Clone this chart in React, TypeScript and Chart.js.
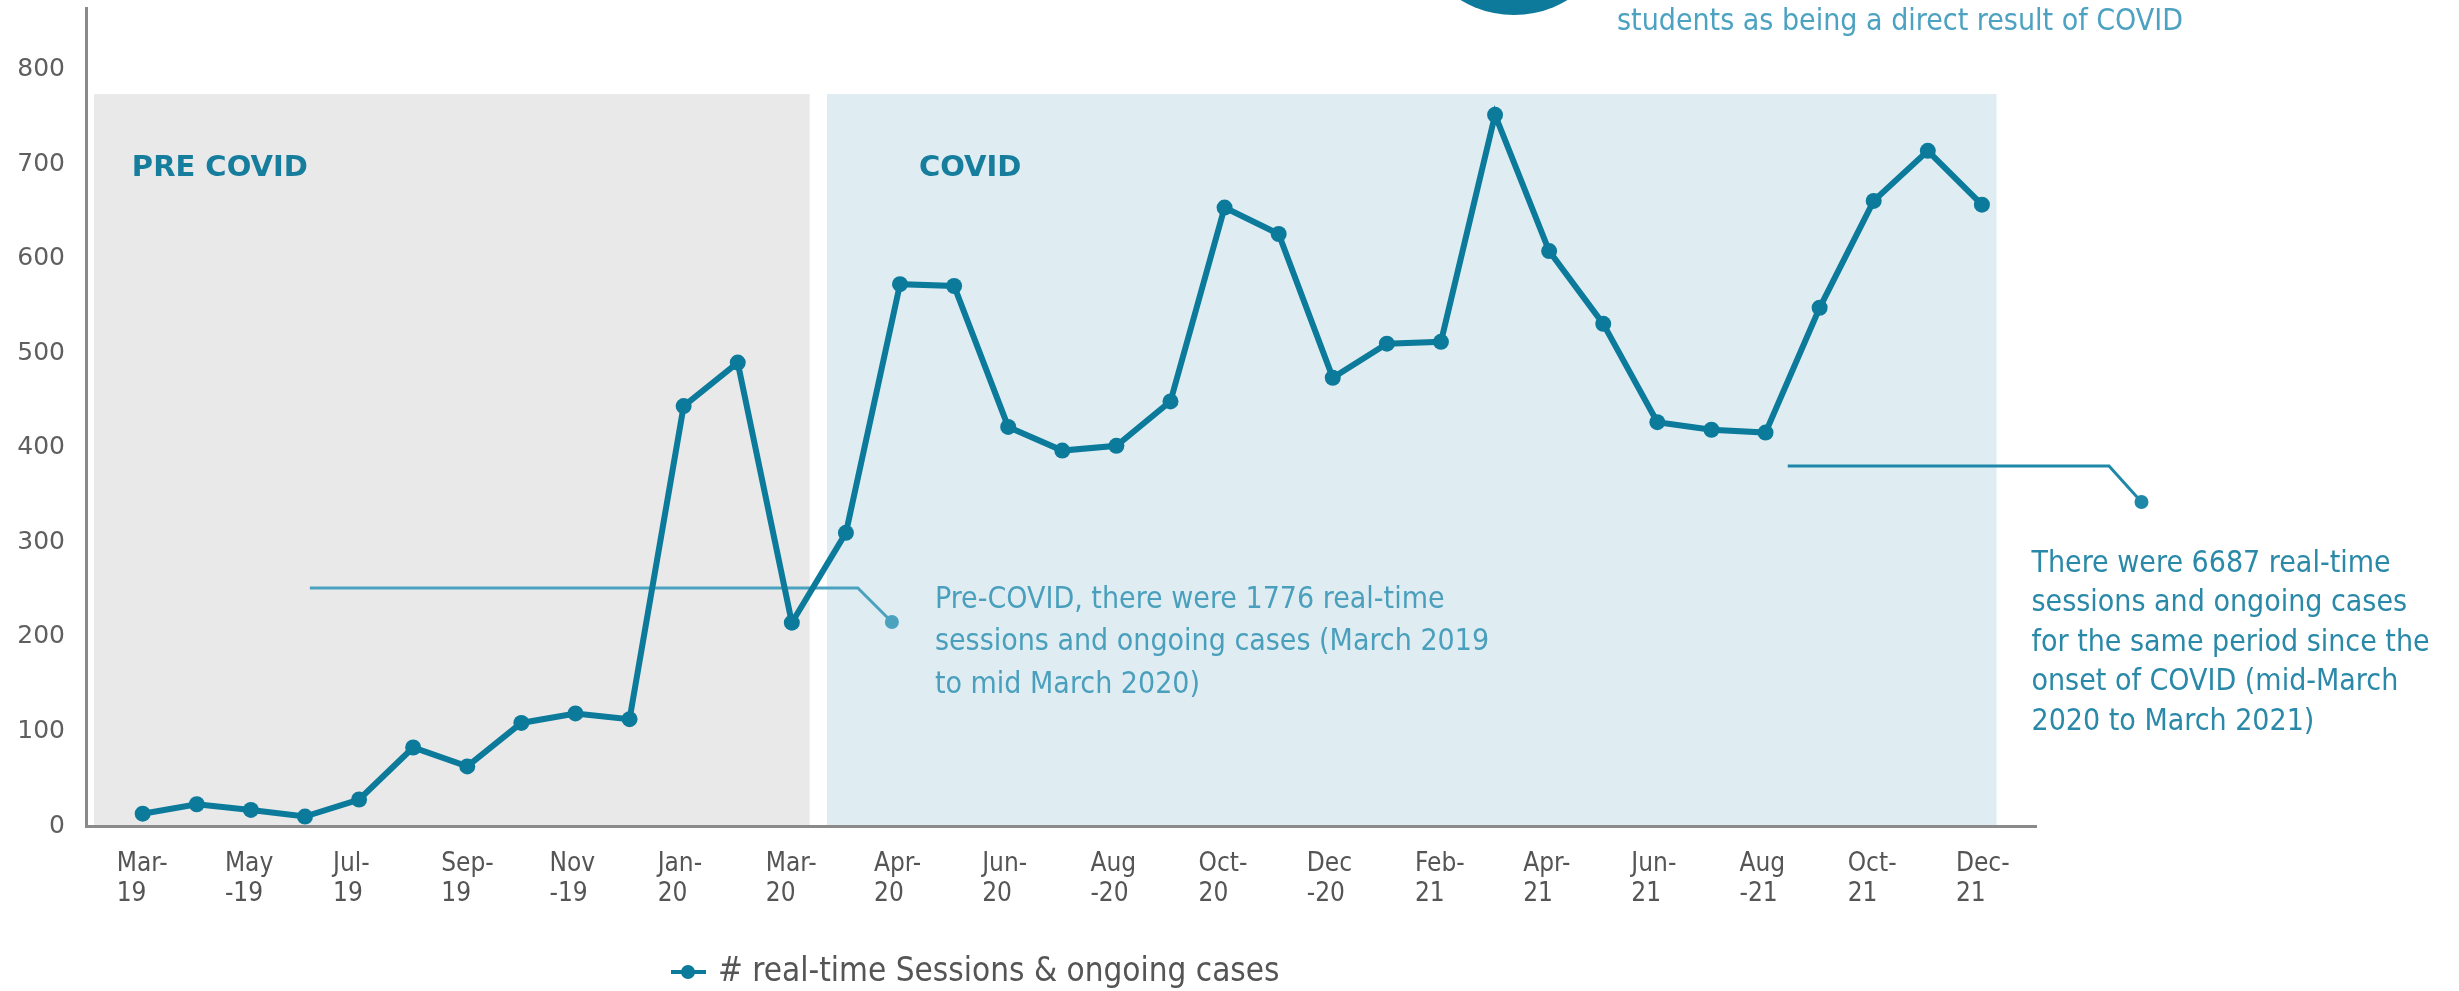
import React, { useEffect, useRef } from "react";
import { Chart, registerables } from "chart.js";

Chart.register(...registerables);

// ---- data ----
const tickLabels: string[][] = [
  ["Mar-", "19"], ["May", "-19"], ["Jul-", "19"], ["Sep-", "19"], ["Nov", "-19"],
  ["Jan-", "20"], ["Mar-", "20"], ["Apr-", "20"], ["Jun-", "20"], ["Aug", "-20"],
  ["Oct-", "20"], ["Dec", "-20"], ["Feb-", "21"], ["Apr-", "21"], ["Jun-", "21"],
  ["Aug", "-21"], ["Oct-", "21"], ["Dec-", "21"],
];
const sessions: number[] = [
  13, 23, 17, 10, 28, 83, 63, 109, 119, 113,
  444, 490, 215, 310, 573, 571, 422, 397, 402, 449,
  654, 626, 474, 510, 512, 752, 608, 531, 427, 419,
  416, 548, 661, 714, 657,
];
const yTickValues: number[] = [0, 100, 200, 300, 400, 500, 600, 700, 800];
const seriesName = "# real-time Sessions & ongoing cases";

const periodNames: string[] = ["PRE COVID", "COVID"];
const periodStart: number[] = [-0.9, 12.65];
const periodEnd: number[] = [12.33, 34.27];
const periodTop = 774;

const noteLeft: string[] = [
  "Pre-COVID, there were 1776 real-time",
  "sessions and ongoing cases (March 2019",
  "to mid March 2020)",
];
const noteRight: string[] = [
  "There were 6687 real-time",
  "sessions and ongoing cases",
  "for the same period since the",
  "onset of COVID (mid-March",
  "2020 to March 2021)",
];
const topNote = "students as being a direct result of COVID";

// ---- styles ----
const TEAL = "#0b7a9b";
const COND = "'DejaVu Sans Condensed', 'Liberation Sans Narrow', 'DejaVu Sans', sans-serif";
const periodColors = ["#e9e9e9", "#dfedf3"];
const periodLabelX = [-0.2, 14.35];
const periodLabelY = 695;
// connector paths in data coordinates [x, y]
const leftPath: number[][] = [[3.09, 251.7], [13.22, 251.7], [13.85, 215.7]];
const rightPath: number[][] = [[30.41, 380.7], [36.35, 380.7], [36.95, 342.6]];

const overlay = {
  id: "overlay",
  beforeDraw(chart: any) {
    const { ctx } = chart;
    const x = chart.scales.x;
    const y = chart.scales.y;
    ctx.save();
    const yTop = y.getPixelForValue(periodTop);
    const yBot = y.getPixelForValue(0);
    for (let i = 0; i < periodNames.length; i++) {
      const x0 = x.getPixelForValue(periodStart[i]);
      const x1 = x.getPixelForValue(periodEnd[i]);
      ctx.fillStyle = periodColors[i];
      ctx.fillRect(x0, yTop, x1 - x0, yBot - yTop);
    }
    ctx.fillStyle = "#177d9d";
    ctx.font = "bold 29px 'DejaVu Sans', sans-serif";
    ctx.textBaseline = "middle";
    ctx.textAlign = "left";
    for (let i = 0; i < periodNames.length; i++) {
      ctx.fillText(periodNames[i], x.getPixelForValue(periodLabelX[i]), y.getPixelForValue(periodLabelY));
    }
    const drawPath = (path: number[][], color: string) => {
      ctx.strokeStyle = color;
      ctx.lineWidth = 3;
      ctx.beginPath();
      path.forEach((p, k) => {
        const px = x.getPixelForValue(p[0]);
        const py = y.getPixelForValue(p[1]);
        if (k === 0) ctx.moveTo(px, py);
        else ctx.lineTo(px, py);
      });
      ctx.stroke();
      const last = path[path.length - 1];
      ctx.fillStyle = color;
      ctx.beginPath();
      ctx.arc(x.getPixelForValue(last[0]), y.getPixelForValue(last[1]), 7, 0, Math.PI * 2);
      ctx.fill();
    };
    drawPath(leftPath, "#4aa2bf");
    drawPath(rightPath, "#1f87a8");
    ctx.restore();
  },
  afterDraw(chart: any) {
    const { ctx } = chart;
    const x = chart.scales.x;
    const y = chart.scales.y;
    ctx.save();
    ctx.textBaseline = "middle";
    ctx.textAlign = "left";
    // left note
    const lEnd = leftPath[leftPath.length - 1];
    const lx = x.getPixelForValue(lEnd[0]) + 43;
    const ly = y.getPixelForValue(lEnd[1]) - 22;
    ctx.font = "30px " + COND;
    ctx.fillStyle = "#4a9fbc";
    noteLeft.forEach((t, k) => ctx.fillText(t, lx, ly + k * 42.5));
    // right note
    const rEnd = rightPath[rightPath.length - 1];
    const rx = x.getPixelForValue(rEnd[0]) - 110;
    const ry = y.getPixelForValue(rEnd[1]) + 62;
    ctx.fillStyle = "#2a89a8";
    noteRight.forEach((t, k) => ctx.fillText(t, rx, ry + k * 39.5));
    // top circle & note
    ctx.fillStyle = "#0e7a9b";
    ctx.beginPath();
    ctx.arc(1514, -88, 103, 0, Math.PI * 2);
    ctx.fill();
    ctx.fillStyle = "#4ca2c0";
    ctx.fillText(topNote, 1617, 22);
    // legend
    const ly2 = 972;
    ctx.strokeStyle = TEAL;
    ctx.lineWidth = 4;
    ctx.beginPath();
    ctx.moveTo(671, ly2);
    ctx.lineTo(706, ly2);
    ctx.stroke();
    ctx.fillStyle = TEAL;
    ctx.beginPath();
    ctx.arc(688, ly2, 7, 0, Math.PI * 2);
    ctx.fill();
    ctx.font = "33px " + COND;
    ctx.fillStyle = "#555555";
    ctx.fillText(seriesName, 718, ly2);
    ctx.restore();
  },
};

export default function App() {
  const ref = useRef<HTMLCanvasElement | null>(null);
  useEffect(() => {
    if (!ref.current) return;
    const chart = new Chart(ref.current, {
      type: "line",
      data: {
        datasets: [
          {
            label: seriesName,
            data: sessions.map((v, i) => ({ x: i, y: v })),
            borderColor: TEAL,
            backgroundColor: TEAL,
            pointBackgroundColor: TEAL,
            pointBorderWidth: 0,
            pointRadius: 8,
            borderWidth: 6,
            tension: 0,
          },
        ],
      },
      options: {
        responsive: false,
        animation: false,
        devicePixelRatio: 1,
        layout: { padding: { top: 8, left: 0, right: 423, bottom: 0 } },
        plugins: { legend: { display: false }, tooltip: { enabled: false } },
        scales: {
          x: {
            type: "linear",
            min: -1.048,
            max: 35.0,
            afterBuildTicks: (axis: any) => {
              axis.ticks = tickLabels.map((_, k) => ({ value: k * 2 }));
            },
            afterFit: (axis: any) => {
              axis.height = 165;
              axis.paddingLeft = 0;
              axis.paddingRight = 0;
            },
            grid: { display: false, drawTicks: false },
            border: { display: true, color: "#8a8a8a", width: 3 },
            ticks: {
              autoSkip: false,
              maxRotation: 0,
              minRotation: 0,
              align: "start",
              labelOffset: -26,
              padding: 23,
              color: "#555555",
              font: { family: COND, size: 26, lineHeight: "30px" } as any,
              callback: (value: any) => tickLabels[Math.round(Number(value) / 2)] ?? "",
            },
          },
          y: {
            min: 0,
            max: 865,
            afterBuildTicks: (axis: any) => {
              axis.ticks = yTickValues.map((v) => ({ value: v }));
            },
            afterFit: (axis: any) => {
              axis.width = 86;
              axis.paddingTop = 0;
              axis.paddingBottom = 0;
            },
            grid: { display: false, drawTicks: false },
            border: { display: true, color: "#8a8a8a", width: 3 },
            ticks: {
              padding: 21,
              color: "#5f5f5f",
              font: { family: "'DejaVu Sans', sans-serif", size: 25 },
            },
          },
        },
      },
      plugins: [overlay],
    } as any);
    return () => chart.destroy();
  }, []);
  return (
    <div style={{ position: "fixed", left: 0, top: 0, width: "2459px", height: "991px", background: "#ffffff" }}>
      <canvas ref={ref} width={2459} height={991} style={{ display: "block" }} />
    </div>
  );
}
